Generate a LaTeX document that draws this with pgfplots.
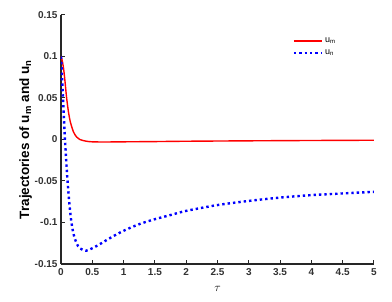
\documentclass[border=0pt]{standalone}
\usepackage{pgfplots}
\pgfplotsset{compat=1.18}
\usepackage{fontspec}
\setmainfont{Liberation Sans}
\begin{document}
\begin{tikzpicture}
\path[use as bounding box] (-61pt,-38pt) rectangle (331pt,264pt);
\begin{axis}[
  at={(0,0)}, anchor=south west,
  scale only axis, width=313pt, height=249pt,
  xmin=0, xmax=5, ymin=-0.15, ymax=0.15,
  axis lines*=left,
  axis line style={line width=1.1pt, color=black!85},
  every tick/.style={line width=1pt, color=black!85},
  tick align=inside, major tick length=4pt,
  xtick={0,0.5,...,5}, ytick={-0.15,-0.1,-0.05,0,0.05,0.1,0.15},
  xticklabels={0,0.5,1,1.5,2,2.5,3,3.5,4,4.5,5},
  yticklabels={-0.15,-0.1,-0.05,0,0.05,0.1,0.15},
  ticklabel style={font=\fontsize{10}{12}\selectfont\bfseries, text=black!80},
  xticklabel style={yshift=-1pt},
  xlabel={$\tau$}, xlabel style={font=\fontsize{13}{14}\selectfont, yshift=-4pt},
  ylabel={\textbf{Trajectories of u\textsubscript{m} and u\textsubscript{n}}},
  ylabel style={font=\fontsize{13.5}{15}\selectfont, yshift=-4pt},
  legend style={at={(0.73,0.925)}, anchor=north west, draw=none, fill=none,
    font=\fontsize{9}{10}\selectfont, row sep=2pt},
  legend cell align=left,
  legend image code/.code={\draw[#1] (0pt,0pt) -- (28pt,0pt);},
]
\addplot[red, line width=1.4pt, smooth] coordinates {
(0,0.1) (0.02,0.095) (0.04,0.086) (0.06,0.073) (0.09,0.05) (0.12,0.033) (0.15,0.021) (0.2,0.009) (0.25,0.003) (0.3,0.000) (0.4,-0.002) (0.5,-0.0028) (0.7,-0.003) (1,-0.0028) (1.5,-0.0025) (2,-0.0021) (3,-0.0016) (4,-0.0012) (5,-0.0009)
};
\addlegendentry{u\textsubscript{m}}
\addplot[blue, line width=2.4pt, dash pattern=on 2.4pt off 3pt, smooth] coordinates {
(0,0.1) (0.02,0.07) (0.04,0.036) (0.06,0.005) (0.08,-0.021) (0.1,-0.045) (0.13,-0.074) (0.16,-0.096) (0.2,-0.114) (0.25,-0.125) (0.3,-0.131) (0.4,-0.134) (0.5,-0.131) (0.6,-0.127) (0.8,-0.118) (1.0,-0.110) (1.25,-0.102) (1.5,-0.096) (1.75,-0.091) (2,-0.086) (2.5,-0.079) (3,-0.074) (3.5,-0.070) (4,-0.067) (4.5,-0.065) (5,-0.063)
};
\addlegendentry{u\textsubscript{n}}
\end{axis}
\end{tikzpicture}
\end{document}
